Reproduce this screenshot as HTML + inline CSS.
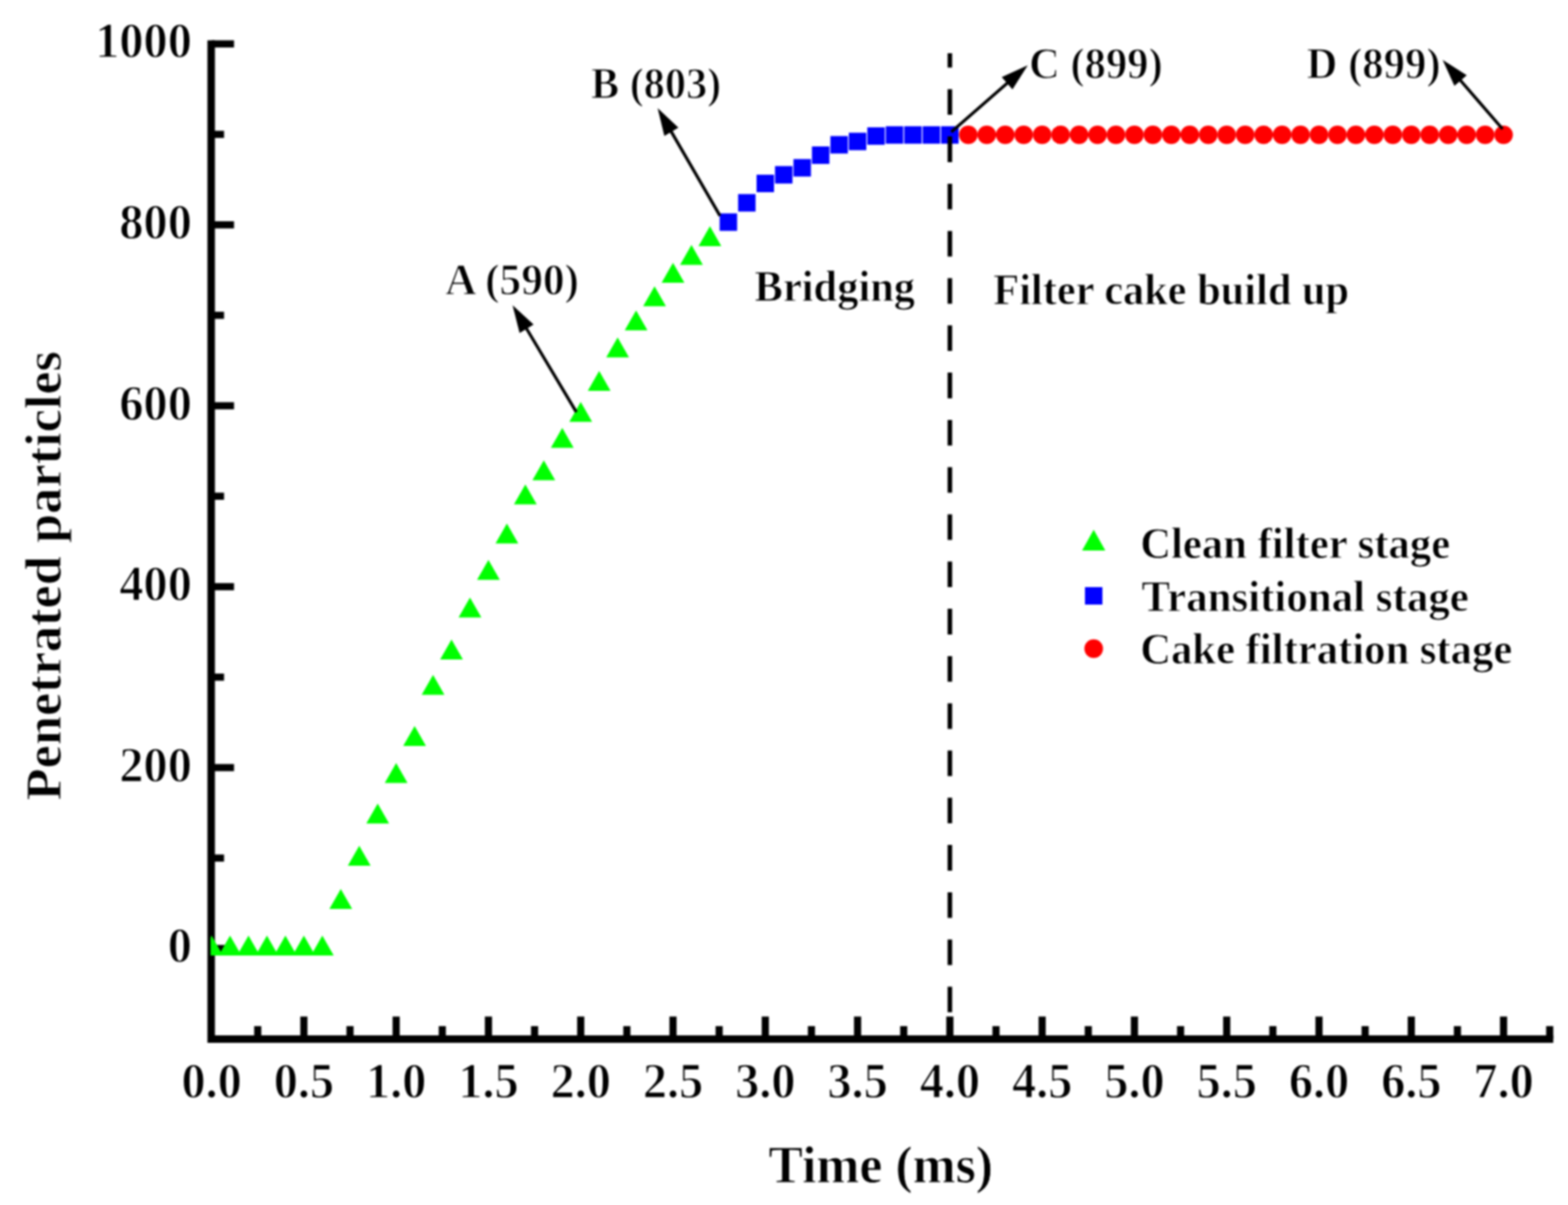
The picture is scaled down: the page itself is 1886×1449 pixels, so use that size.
<!DOCTYPE html>
<html lang="en"><head><meta charset="utf-8"><title>Penetrated particles vs time</title>
<style>html,body{margin:0;padding:0;background:#fff}body{width:1886px;height:1449px;overflow:hidden}svg{display:block}text{font-family:"Liberation Serif",serif;font-weight:bold;fill:#000;stroke:#fff;stroke-linejoin:round}</style></head><body>
<svg width="1886" height="1449" viewBox="0 0 1886 1449">
<defs><filter id="soft" x="0" y="0" width="1886" height="1449" filterUnits="userSpaceOnUse" color-interpolation-filters="sRGB"><feGaussianBlur stdDeviation="0.8"/></filter></defs>
<g filter="url(#soft)">
<rect width="1886" height="1449" fill="#fff"/>
<g stroke="#000" stroke-width="9.00" stroke-linecap="butt" fill="none">
<path d="M254.00 48.50 V1249.38 H1868.30"/>
</g>
<g stroke="#000" stroke-width="8.60" stroke-linecap="butt">
<line x1="254.50" y1="1140.60" x2="281.50" y2="1140.60"/>
<line x1="254.50" y1="1031.82" x2="269.50" y2="1031.82"/>
<line x1="254.50" y1="923.04" x2="281.50" y2="923.04"/>
<line x1="254.50" y1="814.26" x2="269.50" y2="814.26"/>
<line x1="254.50" y1="705.48" x2="281.50" y2="705.48"/>
<line x1="254.50" y1="596.70" x2="269.50" y2="596.70"/>
<line x1="254.50" y1="487.92" x2="281.50" y2="487.92"/>
<line x1="254.50" y1="379.14" x2="269.50" y2="379.14"/>
<line x1="254.50" y1="270.36" x2="281.50" y2="270.36"/>
<line x1="254.50" y1="161.58" x2="269.50" y2="161.58"/>
<line x1="254.50" y1="52.80" x2="281.50" y2="52.80"/>
<line x1="310.00" y1="1249.38" x2="310.00" y2="1233.88"/>
<line x1="365.50" y1="1249.38" x2="365.50" y2="1222.38"/>
<line x1="421.00" y1="1249.38" x2="421.00" y2="1233.88"/>
<line x1="476.50" y1="1249.38" x2="476.50" y2="1222.38"/>
<line x1="532.00" y1="1249.38" x2="532.00" y2="1233.88"/>
<line x1="587.50" y1="1249.38" x2="587.50" y2="1222.38"/>
<line x1="643.00" y1="1249.38" x2="643.00" y2="1233.88"/>
<line x1="698.50" y1="1249.38" x2="698.50" y2="1222.38"/>
<line x1="754.00" y1="1249.38" x2="754.00" y2="1233.88"/>
<line x1="809.50" y1="1249.38" x2="809.50" y2="1222.38"/>
<line x1="865.00" y1="1249.38" x2="865.00" y2="1233.88"/>
<line x1="920.50" y1="1249.38" x2="920.50" y2="1222.38"/>
<line x1="976.00" y1="1249.38" x2="976.00" y2="1233.88"/>
<line x1="1031.50" y1="1249.38" x2="1031.50" y2="1222.38"/>
<line x1="1087.00" y1="1249.38" x2="1087.00" y2="1233.88"/>
<line x1="1142.50" y1="1249.38" x2="1142.50" y2="1222.38"/>
<line x1="1198.00" y1="1249.38" x2="1198.00" y2="1233.88"/>
<line x1="1253.50" y1="1249.38" x2="1253.50" y2="1222.38"/>
<line x1="1309.00" y1="1249.38" x2="1309.00" y2="1233.88"/>
<line x1="1364.50" y1="1249.38" x2="1364.50" y2="1222.38"/>
<line x1="1420.00" y1="1249.38" x2="1420.00" y2="1233.88"/>
<line x1="1475.50" y1="1249.38" x2="1475.50" y2="1222.38"/>
<line x1="1531.00" y1="1249.38" x2="1531.00" y2="1233.88"/>
<line x1="1586.50" y1="1249.38" x2="1586.50" y2="1222.38"/>
<line x1="1642.00" y1="1249.38" x2="1642.00" y2="1233.88"/>
<line x1="1697.50" y1="1249.38" x2="1697.50" y2="1222.38"/>
<line x1="1753.00" y1="1249.38" x2="1753.00" y2="1233.88"/>
<line x1="1808.50" y1="1249.38" x2="1808.50" y2="1222.38"/>
<line x1="1864.00" y1="1249.38" x2="1864.00" y2="1233.88"/>
</g>
<clipPath id="plotclip"><rect x="253.3" y="0" width="1640" height="1449"/></clipPath>
<g clip-path="url(#plotclip)">
<g fill="#00ff00">
<path d="M254.5 1125.1 L268.2 1149.1 L240.8 1149.1 Z"/>
<path d="M276.7 1125.1 L290.4 1149.1 L263.0 1149.1 Z"/>
<path d="M298.9 1125.1 L312.6 1149.1 L285.2 1149.1 Z"/>
<path d="M321.1 1125.1 L334.8 1149.1 L307.4 1149.1 Z"/>
<path d="M343.3 1125.1 L357.0 1149.1 L329.6 1149.1 Z"/>
<path d="M365.5 1125.1 L379.2 1149.1 L351.8 1149.1 Z"/>
<path d="M387.7 1125.1 L401.4 1149.1 L374.0 1149.1 Z"/>
<path d="M409.9 1069.0 L423.6 1093.0 L396.2 1093.0 Z"/>
<path d="M432.1 1016.9 L445.8 1040.9 L418.4 1040.9 Z"/>
<path d="M454.3 966.2 L468.0 990.2 L440.6 990.2 Z"/>
<path d="M476.5 917.4 L490.2 941.4 L462.8 941.4 Z"/>
<path d="M498.7 873.1 L512.4 897.1 L485.0 897.1 Z"/>
<path d="M520.9 811.4 L534.6 835.4 L507.2 835.4 Z"/>
<path d="M543.1 769.1 L556.8 793.1 L529.4 793.1 Z"/>
<path d="M565.3 718.4 L579.0 742.4 L551.6 742.4 Z"/>
<path d="M587.5 673.2 L601.2 697.2 L573.8 697.2 Z"/>
<path d="M609.7 629.6 L623.4 653.6 L596.0 653.6 Z"/>
<path d="M631.9 582.5 L645.6 606.5 L618.2 606.5 Z"/>
<path d="M654.1 553.4 L667.8 577.4 L640.4 577.4 Z"/>
<path d="M676.3 514.6 L690.0 538.6 L662.6 538.6 Z"/>
<path d="M698.5 483.3 L712.2 507.3 L684.8 507.3 Z"/>
<path d="M720.7 446.0 L734.4 470.0 L707.0 470.0 Z"/>
<path d="M742.9 405.8 L756.6 429.8 L729.2 429.8 Z"/>
<path d="M765.1 373.3 L778.8 397.3 L751.4 397.3 Z"/>
<path d="M787.3 344.3 L801.0 368.3 L773.6 368.3 Z"/>
<path d="M809.5 316.0 L823.2 340.0 L795.8 340.0 Z"/>
<path d="M831.7 294.4 L845.4 318.4 L818.0 318.4 Z"/>
<path d="M853.9 272.0 L867.6 296.0 L840.2 296.0 Z"/>
</g>
<g fill="#0000ff">
<rect x="865.6" y="256.6" width="21" height="21"/>
<rect x="887.8" y="233.4" width="21" height="21"/>
<rect x="910.0" y="210.1" width="21" height="21"/>
<rect x="932.2" y="199.7" width="21" height="21"/>
<rect x="954.4" y="191.3" width="21" height="21"/>
<rect x="976.6" y="176.1" width="21" height="21"/>
<rect x="998.8" y="163.6" width="21" height="21"/>
<rect x="1021.0" y="159.6" width="21" height="21"/>
<rect x="1043.2" y="153.1" width="21" height="21"/>
<rect x="1065.4" y="151.8" width="21" height="21"/>
<rect x="1087.6" y="151.8" width="21" height="21"/>
<rect x="1109.8" y="151.8" width="21" height="21"/>
<rect x="1132.0" y="151.8" width="21" height="21"/>
</g>
<g fill="#ff0000">
<circle cx="1164.7" cy="162.1" r="11.2"/>
<circle cx="1186.9" cy="162.1" r="11.2"/>
<circle cx="1209.1" cy="162.1" r="11.2"/>
<circle cx="1231.3" cy="162.1" r="11.2"/>
<circle cx="1253.5" cy="162.1" r="11.2"/>
<circle cx="1275.7" cy="162.1" r="11.2"/>
<circle cx="1297.9" cy="162.1" r="11.2"/>
<circle cx="1320.1" cy="162.1" r="11.2"/>
<circle cx="1342.3" cy="162.1" r="11.2"/>
<circle cx="1364.5" cy="162.1" r="11.2"/>
<circle cx="1386.7" cy="162.1" r="11.2"/>
<circle cx="1408.9" cy="162.1" r="11.2"/>
<circle cx="1431.1" cy="162.1" r="11.2"/>
<circle cx="1453.3" cy="162.1" r="11.2"/>
<circle cx="1475.5" cy="162.1" r="11.2"/>
<circle cx="1497.7" cy="162.1" r="11.2"/>
<circle cx="1519.9" cy="162.1" r="11.2"/>
<circle cx="1542.1" cy="162.1" r="11.2"/>
<circle cx="1564.3" cy="162.1" r="11.2"/>
<circle cx="1586.5" cy="162.1" r="11.2"/>
<circle cx="1608.7" cy="162.1" r="11.2"/>
<circle cx="1630.9" cy="162.1" r="11.2"/>
<circle cx="1653.1" cy="162.1" r="11.2"/>
<circle cx="1675.3" cy="162.1" r="11.2"/>
<circle cx="1697.5" cy="162.1" r="11.2"/>
<circle cx="1719.7" cy="162.1" r="11.2"/>
<circle cx="1741.9" cy="162.1" r="11.2"/>
<circle cx="1764.1" cy="162.1" r="11.2"/>
<circle cx="1786.3" cy="162.1" r="11.2"/>
<circle cx="1808.5" cy="162.1" r="11.2"/>
</g>
</g>
<g font-size="60.5" text-anchor="end" stroke-width="1.3">
<text transform="translate(230.8 1157.2) scale(0.962 1)">0</text>
<text transform="translate(230.8 939.6) scale(0.962 1)">200</text>
<text transform="translate(230.8 722.1) scale(0.962 1)">400</text>
<text transform="translate(230.8 504.5) scale(0.962 1)">600</text>
<text transform="translate(230.8 287.0) scale(0.962 1)">800</text>
<text transform="translate(230.8 69.4) scale(0.962 1)">1000</text>
</g>
<g font-size="60.5" text-anchor="middle" stroke-width="1.3">
<text transform="translate(254.5 1320) scale(0.962 1)">0.0</text>
<text transform="translate(365.5 1320) scale(0.962 1)">0.5</text>
<text transform="translate(476.5 1320) scale(0.962 1)">1.0</text>
<text transform="translate(587.5 1320) scale(0.962 1)">1.5</text>
<text transform="translate(698.5 1320) scale(0.962 1)">2.0</text>
<text transform="translate(809.5 1320) scale(0.962 1)">2.5</text>
<text transform="translate(920.5 1320) scale(0.962 1)">3.0</text>
<text transform="translate(1031.5 1320) scale(0.962 1)">3.5</text>
<text transform="translate(1142.5 1320) scale(0.962 1)">4.0</text>
<text transform="translate(1253.5 1320) scale(0.962 1)">4.5</text>
<text transform="translate(1364.5 1320) scale(0.962 1)">5.0</text>
<text transform="translate(1475.5 1320) scale(0.962 1)">5.5</text>
<text transform="translate(1586.5 1320) scale(0.962 1)">6.0</text>
<text transform="translate(1697.5 1320) scale(0.962 1)">6.5</text>
<text transform="translate(1808.5 1320) scale(0.962 1)">7.0</text>
</g>
<text transform="translate(924.34 1421.50) scale(0.9718 1)" font-size="64" stroke-width="0.9">Time (ms)</text>
<text transform="translate(73.3 692.3) rotate(-90) scale(1.016 1)" font-size="62" text-anchor="middle" stroke-width="0.9">Penetrated particles</text>
<path d="M1142.5 64.0 V81.3 M1142.5 107.3 V138.1 M1142.5 164.1 V194.9 M1142.5 220.9 V251.7 M1142.5 277.7 V308.5 M1142.5 334.5 V365.3 M1142.5 391.3 V422.1 M1142.5 448.1 V478.9 M1142.5 504.9 V535.7 M1142.5 561.7 V592.5 M1142.5 618.5 V649.3 M1142.5 675.3 V706.1 M1142.5 732.1 V762.9 M1142.5 788.9 V819.7 M1142.5 845.7 V876.5 M1142.5 902.5 V933.3 M1142.5 959.3 V990.1 M1142.5 1016.1 V1046.9 M1142.5 1072.9 V1103.7 M1142.5 1129.7 V1160.5 M1142.5 1186.5 V1217.3" stroke="#000" stroke-width="5.5" fill="none"/>
<line x1="693.2" y1="495.5" x2="632.4" y2="393.6" stroke="#000" stroke-width="3.7"/><path d="M616.5 367.0 L641.8 390.3 L625.0 400.4 Z" fill="#000"/>
<line x1="866.0" y1="259.5" x2="806.5" y2="156.8" stroke="#000" stroke-width="3.7"/><path d="M791.0 130.0 L816.0 153.6 L799.1 163.5 Z" fill="#000"/>
<line x1="1144.3" y1="158.6" x2="1212.8" y2="98.8" stroke="#000" stroke-width="3.7"/><path d="M1236.2 78.4 L1217.8 107.5 L1204.9 92.7 Z" fill="#000"/>
<line x1="1807.3" y1="155.1" x2="1755.5" y2="95.4" stroke="#000" stroke-width="3.7"/><path d="M1735.2 72.0 L1764.2 90.5 L1749.4 103.3 Z" fill="#000"/>
<text transform="translate(535.60 354.00) scale(1.0032 1)" font-size="52" stroke-width="1.2">A (590)</text>
<text transform="translate(710.83 118.20) scale(0.9776 1)" font-size="52" stroke-width="1.2">B (803)</text>
<text transform="translate(1237.70 93.50) scale(0.9860 1)" font-size="52" stroke-width="1.2">C (899)</text>
<text transform="translate(1571.52 93.70) scale(0.9883 1)" font-size="52" stroke-width="1.2">D (899)</text>
<text transform="translate(907.59 362.00) scale(0.9641 1)" font-size="53" stroke-width="0.9">Bridging</text>
<text transform="translate(1194.80 365.70) scale(0.9614 1)" font-size="53" stroke-width="0.9">Filter cake build up</text>
<path d="M1315.5 637 L1329.5 662 L1301.5 662 Z" fill="#00ff00"/>
<rect x="1305" y="706" width="21" height="21" fill="#0000ff"/>
<circle cx="1315.5" cy="780" r="11.2" fill="#ff0000"/>
<text transform="translate(1371.39 671.40) scale(0.9693 1)" font-size="53" stroke-width="0.9">Clean filter stage</text>
<text transform="translate(1373.08 735.00) scale(0.9749 1)" font-size="53" stroke-width="0.9">Transitional stage</text>
<text transform="translate(1371.39 798.20) scale(0.9688 1)" font-size="53" stroke-width="0.9">Cake filtration stage</text>
</g>
</svg></body></html>
